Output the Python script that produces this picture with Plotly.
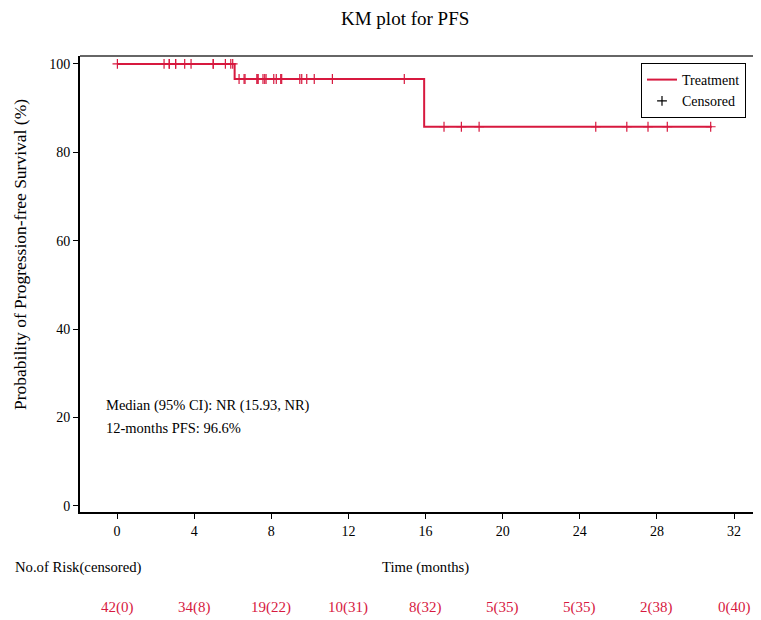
import plotly.graph_objects as go

# ---- data ----
step_times = [0, 6.1, 15.93, 30.85]
step_surv = [100, 96.6, 85.8, 85.8]
censor_times = [0.02, 2.44, 2.71, 2.71, 3.04, 3.04, 3.51, 3.84,
                 4.99, 4.99, 5.62, 5.90, 6.00, 6.33, 6.59, 6.64, 7.25, 7.31, 7.31, 7.57, 7.66, 7.73,
                 8.13, 8.26, 8.49, 8.54, 9.48, 9.58, 9.84, 10.23, 11.17,
                 14.90,
                 16.96, 17.86, 18.78,
                 24.83, 26.44, 27.54,
                 28.54, 30.79]
tick_vals = [0, 4, 8, 12, 16, 20, 24, 28, 32]
risk_labels = ["42(0)", "34(8)", "19(22)", "10(31)", "8(32)", "5(35)", "5(35)", "2(38)", "0(40)"]
y_ticks = [0, 20, 40, 60, 80, 100]

RED = "#D7193F"
FONT = "Liberation Serif"


def surv_at(t):
    s = step_surv[0]
    for tt, ss in zip(step_times, step_surv):
        if t >= tt:
            s = ss
    return s


censor_y = [surv_at(t) for t in censor_times]

fig = go.Figure()
fig.add_trace(go.Scatter(x=step_times, y=step_surv, mode="lines", line=dict(color=RED, width=2, shape="hv"),
                         name="Treatment", showlegend=True))
fig.add_trace(go.Scatter(x=censor_times, y=censor_y, mode="markers",
                         marker=dict(symbol="cross-thin", size=7, line=dict(color=RED, width=1.2)),
                         showlegend=False, hoverinfo="x+y"))
fig.add_trace(go.Scatter(x=[None], y=[None], mode="markers", name="Censored",
                         marker=dict(symbol="cross-thin", size=7, line=dict(color="black", width=1.2))))

OFF = 8  # page offset of the figure inside the screenshot
W, H = 753, 612
L, R, T, B = 72, 0, 48, 108
PW = W - L - R
PH = H - T - B


def px(x):
    return (x - OFF - L) / PW


def py(y):
    return (H - B - (y - OFF)) / PH


ann = []
ann.append(dict(text="KM plot for PFS", x=px(405), y=py(18), xref="paper", yref="paper", showarrow=False,
                xanchor="center", yanchor="middle", font=dict(size=19, family=FONT, color="black")))
ann.append(dict(text="Probability of Progression-free Survival (%)", x=px(20), y=py(255), xref="paper", yref="paper",
                showarrow=False, textangle=-90, xanchor="center", yanchor="middle",
                font=dict(size=17.5, family=FONT, color="black")))
ann.append(dict(text="Median (95% CI): NR (15.93, NR)", x=px(104), y=py(405), xref="paper", yref="paper",
                showarrow=False, xanchor="left", yanchor="middle", font=dict(size=14.5, family=FONT, color="black")))
ann.append(dict(text="12-months PFS: 96.6%", x=px(104), y=py(428), xref="paper", yref="paper",
                showarrow=False, xanchor="left", yanchor="middle", font=dict(size=14.5, family=FONT, color="black")))
ann.append(dict(text="No.of Risk(censored)", x=px(13), y=py(567), xref="paper", yref="paper",
                showarrow=False, xanchor="left", yanchor="middle", font=dict(size=14.7, family=FONT, color="black")))
ann.append(dict(text="Time (months)", x=px(425), y=py(567), xref="paper", yref="paper",
                showarrow=False, xanchor="center", yanchor="middle", font=dict(size=14.7, family=FONT, color="black")))
for t, lab in zip(tick_vals, risk_labels):
    ann.append(dict(text=lab, x=t, y=py(607), xref="x", yref="paper", showarrow=False,
                    xanchor="center", yanchor="middle", font=dict(size=15, family=FONT, color=RED)))

fig.update_layout(
    width=W, height=H,
    margin=dict(l=L, r=R, t=T, b=B, pad=0),
    paper_bgcolor="white", plot_bgcolor="white",
    font=dict(family=FONT, size=14, color="black"),
    showlegend=True,
    legend=dict(x=px(641), y=py(63), xanchor="left", yanchor="top", bgcolor="white",
                bordercolor="black", borderwidth=1, font=dict(size=14, family=FONT, color="black"),
                tracegroupgap=0, itemwidth=30),
    annotations=ann,
    shapes=[dict(type="line", xref="paper", yref="paper", x0=0, x1=1, y0=1, y1=1,
                 line=dict(color="#666666", width=2))],
)
fig.update_xaxes(range=[-1.92, 33.4], tickvals=tick_vals, ticktext=[str(v) for v in tick_vals],
                 showgrid=False, zeroline=False, showline=True, linecolor="black", linewidth=2,
                 ticks="outside", ticklen=5, tickcolor="black", tickwidth=1,
                 tickfont=dict(size=14, family=FONT))
fig.update_yaxes(range=[-1.36, 101.8], tickvals=y_ticks, showgrid=False, zeroline=False, showline=True,
                 linecolor="black", linewidth=2, ticks="outside", ticklen=5, tickcolor="black", tickwidth=1,
                 tickfont=dict(size=14, family=FONT))

fig.write_html("out.html")
